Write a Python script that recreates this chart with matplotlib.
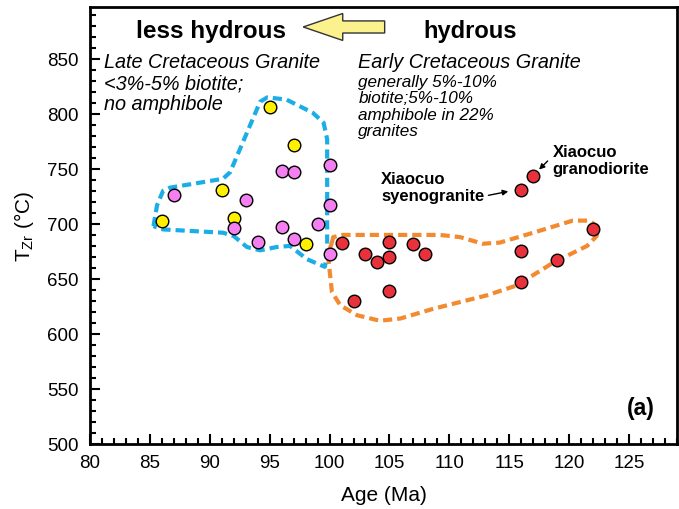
import matplotlib
matplotlib.use("Agg")
import matplotlib.pyplot as plt
from matplotlib.ticker import MultipleLocator
from matplotlib.patches import FancyArrow

# late cretaceous granites (yellow and pink groups)
yellow_age = [86, 91, 92, 95, 97, 98]
yellow_t = [703, 731, 705, 806, 772, 682]

pink_age = [87, 93, 92, 94, 96, 97, 96, 97, 99, 100, 100, 100]
pink_t = [726, 722, 696, 684, 748, 747, 697, 686, 700, 754, 717, 673]

# early cretaceous granites
red_age = [101, 103, 104, 105, 105, 107, 108, 102, 105, 116, 116, 119, 122, 116, 117]
red_t = [683, 673, 665, 684, 670, 682, 673, 630, 639, 675, 647, 667, 695, 731, 744]

# hand-drawn outlines
blue_x = [85.3, 85.6, 86.1, 86.7, 91.1, 91.7, 94.2, 94.8, 96.4, 98.6, 99.5, 99.8,
          99.8, 99.6, 98.1, 96.7, 95.6, 94.2, 93.1, 92.0, 91.1, 86.1, 85.3]
blue_y = [698, 717, 730, 733, 741, 747, 811, 815, 813, 801, 792, 777,
          671, 661, 668, 680, 679, 676, 679, 689, 692, 695, 698]

orange_x = [100.2, 100.3, 101.1, 109.2, 110.9, 112.8, 114.2, 117.0, 120.3, 121.7, 122.4,
            122.3, 121.5, 118.7, 115.6, 113.1, 108.7, 105.9, 104.2, 102.3, 100.9, 100.2,
            99.9, 100.0, 100.2]
orange_y = [683, 688, 690, 690, 688, 682, 683, 692, 703, 703, 697,
            689, 680, 665, 644, 635, 623, 614, 612, 617, 626, 638,
            668, 677, 683]

arial = ["Liberation Sans", "DejaVu Sans"]

fig = plt.figure(figsize=(6.79, 5.10), dpi=100)
ax = fig.add_axes([0.1325, 0.1275, 0.8645, 0.8565])

ax.plot(blue_x, blue_y, ls=(0, (2.2, 1.2)), color="#1BAEE6", lw=3, zorder=2)
ax.plot(orange_x, orange_y, ls=(0, (2.2, 1.2)), color="#F28A30", lw=3, zorder=2)

ax.scatter(yellow_age, yellow_t, s=82, c="#FFF000", edgecolors="black", linewidths=1, zorder=3)
ax.scatter(pink_age, pink_t, s=82, c="#F47FF0", edgecolors="black", linewidths=1, zorder=3)
ax.scatter(red_age, red_t, s=82, c="#E8313A", edgecolors="black", linewidths=1, zorder=3)

ax.set_xlim(80, 129)
ax.set_ylim(500, 897)
ax.xaxis.set_major_locator(MultipleLocator(5))
ax.xaxis.set_minor_locator(MultipleLocator(1))
ax.yaxis.set_major_locator(MultipleLocator(50))
ax.yaxis.set_minor_locator(MultipleLocator(10))
ax.tick_params(which="both", direction="in", top=False, right=False, width=1.5)
ax.tick_params(which="major", length=7, labelsize=13.5)
ax.tick_params(axis="x", which="major", pad=7)
ax.tick_params(axis="y", which="major", pad=8)
ax.tick_params(which="minor", length=4)
for lab in ax.get_xticklabels() + ax.get_yticklabels():
    lab.set_family(arial)
for sp in ax.spines.values():
    sp.set_linewidth(2)

ax.set_xlabel("Age (Ma)", family=arial, fontsize=15, labelpad=10)
ax.set_ylabel("T$_{\\mathregular{Zr}}$ (\u00b0C)", family=arial, fontsize=15, labelpad=8)

# header
ax.text(90.1, 875.5, "less hydrous", family=arial, fontsize=17.5, fontweight="bold",
        ha="center", va="center")
ax.text(107.8, 875.5, "hydrous", family=arial, fontsize=17, fontweight="bold", va="center")
ax.add_patch(FancyArrow(104.6, 879, -6.8, 0, width=11, head_width=24.5, head_length=3.3,
                        length_includes_head=True, facecolor="#FBF28E", edgecolor="#333333",
                        lw=1, zorder=4))

ax.text(81.2, 856, "Late Cretaceous Granite\n<3%-5% biotite;\nno amphibole", family=arial,
        fontsize=14.3, style="italic", va="top", linespacing=1.13)
ax.text(102.4, 856, "Early Cretaceous Granite", family=arial, fontsize=14.3, style="italic", va="top")
ax.text(102.4, 836, "generally 5%-10%\nbiotite;5%-10%\namphibole in 22%\ngranites", family=arial,
        fontsize=12.3, style="italic", va="top", linespacing=1.1)

ax.annotate("Xiaocuo\nsyenogranite", xy=(115.6, 731), xytext=(104.3, 733.5), family=arial,
            fontsize=12, fontweight="bold", va="center", ha="left", linespacing=1.2,
            arrowprops=dict(arrowstyle="-|>", color="black", lw=1, shrinkA=1, shrinkB=6,
                            mutation_scale=8, relpos=(1, 0.22)))
ax.annotate("Xiaocuo\ngranodiorite", xy=(117.0, 744), xytext=(118.6, 758), family=arial,
            fontsize=12, fontweight="bold", va="center", ha="left", linespacing=1.2,
            arrowprops=dict(arrowstyle="-|>", color="black", lw=1, shrinkA=2, shrinkB=6,
                            mutation_scale=8, relpos=(0, 0.62)))

ax.text(126.0, 533, "(a)", family=arial, fontsize=16.5, fontweight="bold", ha="center", va="center")

fig.savefig("out.png", dpi=100)
